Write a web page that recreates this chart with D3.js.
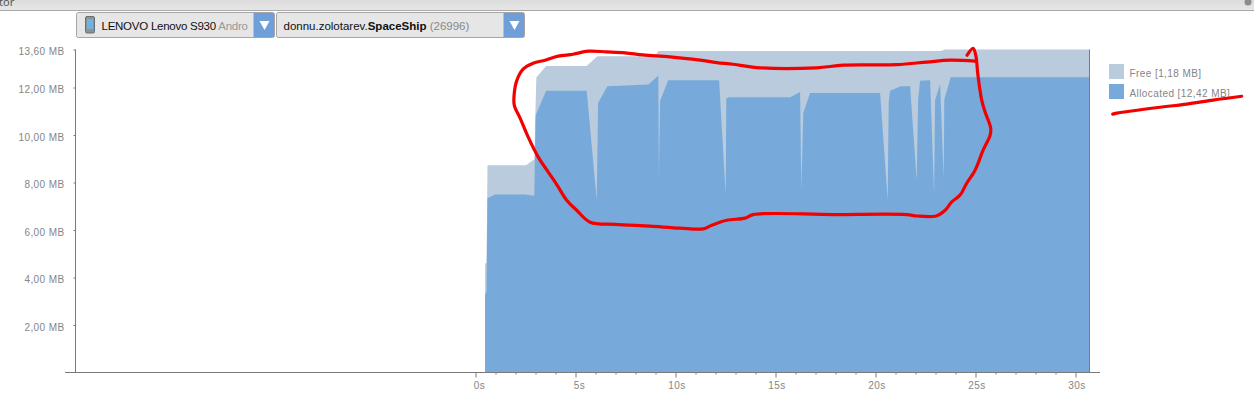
<!DOCTYPE html>
<html>
<head>
<meta charset="utf-8">
<script src="https://cdn.jsdelivr.net/npm/d3@7"></script>
<style>
  html, body { margin: 0; padding: 0; background: #fff; overflow: hidden; }
  svg { display: block; }
  .axis text { font-family: "Liberation Sans", sans-serif; font-size: 10px; fill: #858585; letter-spacing: 0.4px; }
  .axis line, .axis path { stroke: #7a7a7a; }
  .legend text { font-family: "Liberation Sans", sans-serif; font-size: 10px; fill: #858585; letter-spacing: 0.42px; }
  .combo text { font-family: "Liberation Sans", sans-serif; font-size: 11.5px; fill: #111; }
</style>
</head>
<body>
<div id="chart"></div>
<script>
/* DATA */
const allocTimes = [0.48, 0.55, 0.6, 0.98, 2.48, 2.94, 3.01, 3.53, 5.56, 6.06, 6.13, 6.59, 8.64, 9.14, 9.17, 9.23, 9.64, 12.18, 12.51, 12.54, 12.69, 15.73, 16.23, 16.29, 16.39, 16.73, 20.23, 20.61, 20.66, 20.73, 21.26, 21.73, 22.06, 22.13, 22.23, 22.73, 22.93, 22.98, 23.23, 23.41, 23.44, 23.76, 30.7];
const allocValues = [3.3, 3.4, 7.34, 7.49, 7.49, 7.44, 10.83, 11.86, 11.86, 7.25, 11.35, 12.05, 12.13, 12.49, 8.24, 11.44, 12.31, 12.31, 7.47, 11.54, 11.59, 11.59, 11.81, 7.68, 10.93, 11.77, 11.77, 7.25, 11.39, 11.86, 12.05, 12.05, 8.1, 11.47, 12.28, 12.31, 7.47, 11.47, 12.14, 8.18, 11.49, 12.43, 12.43];

const totalTimes = [0.48, 0.55, 0.6, 2.53, 2.94, 3.04, 3.53, 5.56, 6.09, 8.98, 9.14, 23.26, 23.48, 30.7];
const totalValues = [4.6, 4.6, 8.73, 8.73, 8.98, 12.42, 12.91, 12.91, 13.32, 13.32, 13.54, 13.54, 13.6, 13.6];

// the red pen scribbles, in chart units too
const scribbleTimes = [24.98, 23.73, 22.56, 21.06, 18.38, 17.06, 14.23, 12.88, 12.06, 11.23, 9.73, 8.38, 7.48, 6.56, 5.63, 4.88, 4.13, 3.48, 2.88, 2.38, 2.06, 1.93, 1.94, 2.23, 2.63, 3.13, 3.63, 4.08, 4.56, 5.06, 5.73, 6.98, 8.73, 10.23, 11.38, 11.81, 12.56, 13.48, 13.88, 17.88, 21.56, 22.06, 23.03, 23.48, 23.81, 24.23, 24.56, 24.98, 25.38, 25.73, 25.76, 25.48, 25.31, 25.11, 25.03, 24.88, 24.58];
const scribbleValues = [13.11, 13.15, 13.07, 12.96, 12.94, 12.83, 12.83, 12.98, 13.05, 13.15, 13.29, 13.37, 13.46, 13.5, 13.53, 13.4, 13.32, 13.15, 13.02, 12.77, 12.28, 11.68, 11.25, 10.71, 9.92, 9.08, 8.45, 7.89, 7.25, 6.83, 6.33, 6.24, 6.16, 6.08, 6.05, 6.2, 6.41, 6.5, 6.65, 6.65, 6.65, 6.59, 6.59, 6.83, 7.18, 7.47, 7.97, 8.52, 9.36, 9.99, 10.29, 10.97, 11.47, 12.6, 13.28, 13.65, 13.36];
const underlineTimes = [31.86, 32.06, 34.23, 35.56, 36.88, 38.31];
const underlineValues = [10.88, 10.92, 11.17, 11.3, 11.47, 11.63];

const yTicks = [2, 4, 6, 8, 10, 12, 13.6];
const xMajor = [0, 5, 10, 15, 20, 25, 30];
const xMinor = d3.range(1, 31).filter(d => d % 5 !== 0);
const legendLabels = ["Free [1,18 MB]", "Allocated [12,42 MB]"];
const colors = ["#b9cbdc", "#77aadb"];

/* LAYOUT */
const width = 1254, height = 401;
const xScale = d3.scaleLinear().domain([0, 30]).range([475.5, 1075.5]);
const yScale = d3.scaleLinear().domain([0, 13.6]).range([372.5, 49.5]);
const plotLeft = 75.5, plotRight = xScale(30.7);

const svg = d3.select("#chart").append("svg")
  .attr("width", width)
  .attr("height", height);

/* WINDOW STRIP AT THE TOP */
const grad = svg.append("defs").append("linearGradient")
  .attr("id", "strip").attr("x1", 0).attr("x2", 0).attr("y1", 0).attr("y2", 1);
grad.append("stop").attr("offset", 0).attr("stop-color", "#dcdcdc");
grad.append("stop").attr("offset", 1).attr("stop-color", "#e6e6e6");
svg.append("rect").attr("width", width).attr("height", 10).attr("fill", "url(#strip)");
svg.append("rect").attr("y", 10).attr("width", width).attr("height", 1).attr("fill", "#a8a8a8");
svg.append("text").attr("x", -1).attr("y", 6)
  .attr("font-family", "Noto Sans").attr("font-size", 11).attr("fill", "#555")
  .text("tor");
svg.append("circle").attr("cx", 1248).attr("cy", 2).attr("r", 3.5).attr("fill", "#8c8c8c");

/* AREAS */
const area = d3.area()
  .x(d => xScale(d[0]))
  .y0(yScale(0))
  .y1(d => yScale(d[1]));

svg.append("path")
  .datum(d3.zip(totalTimes, totalValues))
  .attr("fill", colors[0])
  .attr("d", area);
svg.append("path")
  .datum(d3.zip(allocTimes, allocValues))
  .attr("fill", colors[1])
  .attr("d", area);

/* AXES */
const yAxis = d3.axisLeft(yScale)
  .tickValues(yTicks)
  .tickSize(2)
  .tickPadding(9)
  .tickFormat(d => d3.format(".2f")(d).replace(".", ",") + " MB");
const yG = svg.append("g").attr("class", "axis")
  .attr("transform", `translate(${plotLeft},0)`)
  .call(yAxis);
yG.select(".domain").attr("d", `M0,${yScale(13.6)}V${yScale(0)}`);
yG.selectAll("text").attr("dy", "0.5em");

svg.append("g").attr("class", "axis")
  .attr("transform", `translate(0,${yScale(0)})`)
  .call(d3.axisBottom(xScale).tickValues(xMinor).tickSize(2).tickFormat(""))
  .select(".domain").remove();
const xG = svg.append("g").attr("class", "axis")
  .attr("transform", `translate(0,${yScale(0)})`)
  .call(d3.axisBottom(xScale).tickValues(xMajor).tickSize(5).tickPadding(4).tickFormat(d => d + "s"));
xG.select(".domain").attr("d", "M65,0H1100");
// single digit labels sit a bit right of their tick in the original
xG.selectAll("text").attr("dx", d => d < 10 ? 3.5 : 1);

// right edge of the plot
svg.append("line")
  .attr("x1", plotRight).attr("x2", plotRight)
  .attr("y1", yScale(13.6)).attr("y2", yScale(0))
  .attr("stroke", "#7a7a7a");

/* LEGEND */
const legend = svg.append("g").attr("class", "legend")
  .selectAll("g")
  .data(legendLabels)
  .join("g")
  .attr("transform", (d, i) => `translate(1109,${64 + i * 20})`);
legend.append("rect")
  .attr("width", 15).attr("height", 15)
  .attr("fill", (d, i) => colors[i]);
legend.append("text")
  .attr("x", 20.5).attr("y", 12.5)
  .text(d => d);

/* DROPDOWNS */
const combos = [
  { x: 76.5, w: 198, clip: "c1", spacing: -0.25, parts: [["LENOVO Lenovo S930 ", "#111", 400], ["Andro", "#999", 400]], textX: 101.5 },
  { x: 276.5, w: 248, clip: "c2", spacing: 0, parts: [["donnu.zolotarev.", "#111", 400], ["SpaceShip", "#111", 700], [" (26996)", "#888", 400]], textX: 283.5 }
];
const combo = svg.selectAll("g.combo")
  .data(combos)
  .join("g")
  .attr("class", "combo")
  .attr("transform", d => `translate(${d.x},12.5)`);
combo.append("rect")
  .attr("width", d => d.w).attr("height", 25).attr("rx", 2)
  .attr("fill", "#e6e6e6").attr("stroke", "#a5a5a5");
combo.append("clipPath").attr("id", d => d.clip)
  .append("rect").attr("width", d => d.w - 21).attr("height", 25);
combo.append("path")
  .attr("d", d => `M${d.w - 21},0.5H${d.w - 0.5}V24.5H${d.w - 21}Z`)
  .attr("fill", "#6f9fd8");
combo.append("path")
  .attr("d", d => `M${d.w - 15},8.5H${d.w - 5}L${d.w - 10},17.5Z`)
  .attr("fill", "#fff");
const comboText = combo.append("text")
  .attr("clip-path", d => `url(#${d.clip})`)
  .attr("letter-spacing", d => d.spacing)
  .attr("x", d => d.textX - d.x).attr("y", 17);
comboText.selectAll("tspan")
  .data(d => d.parts)
  .join("tspan")
  .attr("fill", d => d[1])
  .attr("font-weight", d => d[2])
  .style("white-space", "pre")
  .text(d => d[0]);

// phone icon
const phone = svg.append("g").attr("transform", "translate(85,16)");
phone.append("rect").attr("x", 0.5).attr("y", 0.5).attr("width", 9).attr("height", 16.5).attr("rx", 1.5)
  .attr("fill", "#8d9296").attr("stroke", "#6a6e72");
phone.append("rect").attr("x", 2).attr("y", 3).attr("width", 6).attr("height", 10).attr("fill", "#6fb2de");

/* RED PEN */
const pen = d3.line()
  .x(d => xScale(d[0]))
  .y(d => yScale(d[1]))
  .curve(d3.curveCatmullRom);
[[scribbleTimes, scribbleValues], [underlineTimes, underlineValues]].forEach(s => {
  svg.append("path")
    .datum(d3.zip(s[0], s[1]))
    .attr("fill", "none")
    .attr("stroke", "#f40000")
    .attr("stroke-width", 3.2)
    .attr("stroke-linejoin", "round")
    .attr("stroke-linecap", "round")
    .attr("d", pen);
});
</script>
</body>
</html>
